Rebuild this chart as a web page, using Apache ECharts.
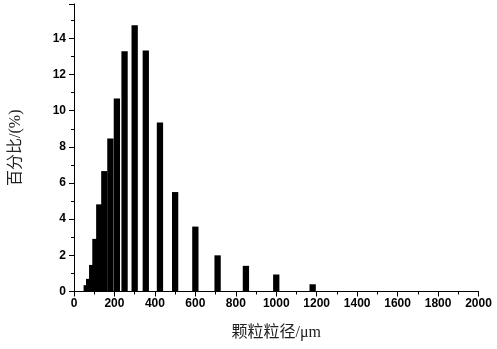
<!DOCTYPE html>
<html>
<head>
<meta charset="utf-8">
<script src="https://cdn.jsdelivr.net/npm/echarts@6/dist/echarts.min.js"></script>
<style>
  html, body { margin: 0; padding: 0; background: #fff; }
  #chart { width: 497px; height: 349px; }
</style>
</head>
<body>
<div id="chart"></div>
<script>
// Sieve openings (μm) and the share of particles retained on each (%)
const sizes = [63, 75, 90, 106, 125, 150, 180, 212, 250, 300, 355, 425, 500, 600, 710, 850, 1000, 1180];
const percents = [0.35, 0.70, 1.47, 2.91, 4.82, 6.66, 8.46, 10.68, 13.28, 14.72, 13.33, 9.34, 5.50, 3.59, 2.00, 1.42, 0.94, 0.40];

const xName = '颗粒粒径/μm';
const yName = '百分比/(%)';

const chart = echarts.init(document.getElementById('chart'));

const tickFont = {
  fontFamily: 'Liberation Sans, Arial, sans-serif',
  fontWeight: 'bold',
  fontSize: 12,
  color: '#000'
};
const nameFont = {
  fontFamily: 'Liberation Serif, Noto Sans CJK SC, serif',
  fontSize: 16,
  color: '#222'
};

chart.setOption({
  animation: false,
  grid: { left: 70.5, right: 18.5, top: 4, bottom: 57.5 },
  xAxis: {
    type: 'value',
    min: 0,
    max: 2000,
    interval: 200,
    name: xName,
    nameLocation: 'middle',
    nameGap: 33,
    nameTextStyle: nameFont,
    axisLine: { show: true, lineStyle: { color: '#000', width: 1 } },
    axisTick: { show: true, length: 5, lineStyle: { color: '#000' } },
    minorTick: { show: true, splitNumber: 2, length: 3, lineStyle: { color: '#000' } },
    axisLabel: Object.assign({ margin: 6, formatter: v => String(v) }, tickFont),
    splitLine: { show: false }
  },
  yAxis: {
    type: 'value',
    min: 0,
    max: 15.9,
    interval: 2,
    name: yName,
    nameLocation: 'middle',
    nameGap: 50,
    nameTextStyle: nameFont,
    axisLine: { show: true, lineStyle: { color: '#000', width: 1 } },
    axisTick: { show: true, length: 5, lineStyle: { color: '#000' } },
    minorTick: { show: true, splitNumber: 2, length: 3, lineStyle: { color: '#000' } },
    axisLabel: Object.assign({
      margin: 8,
      showMaxLabel: false,
      formatter: v => (v % 2 === 0 ? String(v) : '')
    }, tickFont),
    splitLine: { show: false }
  },
  series: [{
    type: 'bar',
    data: sizes.map((s, i) => [s, percents[i]]),
    barWidth: 6.3,
    itemStyle: { color: '#000' }
  }]
});
</script>
</body>
</html>
